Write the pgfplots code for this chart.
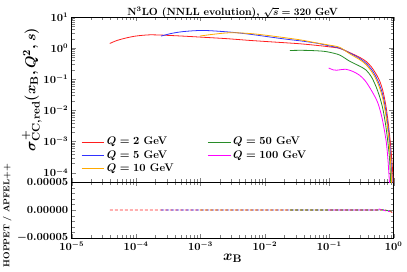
\documentclass[border=0pt]{standalone}
\usepackage{pgfplots}
\pgfplotsset{compat=1.18}
\definecolor{qred}{RGB}{255,30,30}
\definecolor{qblue}{RGB}{50,50,255}
\definecolor{qorange}{RGB}{255,170,0}
\definecolor{qgreen}{RGB}{40,140,40}
\definecolor{qmag}{RGB}{255,0,255}
\pgfplotstableread{
x y
3.9e-5 1.41
5e-5 1.75
7e-5 2.12
1e-4 2.45
1.6e-4 2.67
2.5e-4 2.62
5e-4 2.45
1e-3 2.26
2.5e-3 2.02
5.8e-3 1.77
1.2e-2 1.6
3.5e-2 1.38
0.07 1.2
0.1 1.1
0.145 0.98
0.207 0.72
0.3 0.5
0.375 0.37
0.45 0.25
0.52 0.16
0.6 0.093
0.68 0.042
0.757 0.014
0.82 0.0042
0.88 0.0011
0.93 0.0003
0.97 0.00008
0.99 0.00001
}\qtwo
\pgfplotstableread{
x y
2.44e-4 2.44
3.5e-4 2.95
5.4e-4 3.4
1.1e-3 3.7
2.84e-3 3.28
5.8e-3 2.8
1.9e-2 2.0
3.5e-2 1.72
6.3e-2 1.45
0.1 1.18
0.145 1.0
0.207 0.7
0.3 0.46
0.375 0.32
0.45 0.21
0.52 0.13
0.6 0.068
0.68 0.03
0.757 0.0095
0.82 0.0028
0.86 0.0011
0.9 0.0003
0.94 0.00006
0.97 0.000005
}\qfive
\pgfplotstableread{
x y
9.77e-4 2.44
1.5e-3 2.75
2.84e-3 3.12
5.8e-3 2.95
1.2e-2 2.5
3.5e-2 1.85
0.06 1.5
0.1 1.25
0.145 1.06
0.207 0.66
0.3 0.42
0.375 0.29
0.45 0.18
0.52 0.11
0.6 0.055
0.68 0.023
0.757 0.0068
0.82 0.0019
0.86 0.0007
0.9 0.00018
0.93 0.00004
0.96 0.000004
}\qten
\pgfplotstableread{
x y
0.0244 0.84
0.035 0.85
0.05 0.84
0.078 0.8
0.1 0.74
0.145 0.6
0.207 0.38
0.3 0.26
0.375 0.195
0.45 0.12
0.52 0.065
0.6 0.029
0.68 0.011
0.757 0.003
0.82 0.0008
0.86 0.0003
0.89 0.00008
0.92 0.00001
}\qfifty
\pgfplotstableread{
x y
0.0977 0.23
0.115 0.2
0.13 0.195
0.155 0.205
0.18 0.21
0.23 0.18
0.295 0.135
0.36 0.09
0.42 0.056
0.5 0.03
0.57 0.017
0.65 0.0065
0.72 0.0022
0.77 0.0009
0.81 0.0003
0.85 0.00007
0.87 0.00003
}\qhund
\begin{document}
\boldmath\bfseries
\begin{tikzpicture}
\useasboundingbox (-71.7pt,-33pt) rectangle (335.3pt,238pt);
\pgfplotsset{
  every axis/.append style={font=\bfseries\boldmath},
  tick label style={font=\fontsize{10.5}{12}\selectfont\bfseries\boldmath},
  every axis label/.append style={font=\fontsize{15}{18}\selectfont\bfseries\boldmath},
  tick align=inside,
  xtick pos=both, ytick pos=both,
}
% ratio panel
\begin{axis}[
  at={(0,0)}, anchor=south west,
  scale only axis, width=322pt, height=56pt,
  xmode=log, xmin=1e-5, xmax=1,
  ymin=-5e-5, ymax=5e-5,
  ytick={-5e-5,0,5e-5},
  minor y tick num=4,
  scaled y ticks=false,
  yticklabel style={/pgf/number format/.cd, fixed, fixed zerofill, precision=5},
  xlabel={$x_{\mathrm{B}}$},
  xlabel style={yshift=3pt},
  ylabel={HOPPET / APFEL++},
  ylabel style={font=\fontsize{8.5}{10}\selectfont\bfseries, at={(axis description cs:-0.2,0.4)}, anchor=center},
]
\addplot[qred, densely dashed, line width=0.7pt] coordinates {(3.9e-5,0)(1e-4,0)(1e-3,0)(1e-2,0)(0.1,0)(0.5,0)(0.6,0)(0.7,0.5e-6)(0.8,-1.5e-6)(0.9,-3e-6)(0.95,-5e-6)};
\addplot[qblue, densely dashed, line width=0.7pt] coordinates {(2.44e-4,0)(1e-3,0)(1e-2,0)(0.1,0)(0.5,0)(0.6,0)(0.7,0.5e-6)(0.8,-1e-6)(0.9,-2e-6)(0.94,-3e-6)};
\addplot[qorange, densely dashed, line width=0.7pt] coordinates {(9.77e-4,0)(1e-2,0)(0.1,0)(0.5,0)(0.6,0)(0.7,0.5e-6)(0.8,-1e-6)(0.9,-2e-6)(0.93,-2.5e-6)};
\addplot[qgreen, densely dashed, line width=0.7pt] coordinates {(0.0244,0)(0.1,0)(0.5,0)(0.6,0.3e-6)(0.7,0)(0.8,-1e-6)(0.89,-2e-6)};
\addplot[qmag, densely dashed, line width=0.7pt] coordinates {(0.0977,0)(0.3,0)(0.55,0)(0.6,1.8e-6)(0.65,0)(0.75,-1.5e-6)(0.87,-3e-6)};
\end{axis}
% main panel
\begin{axis}[
  at={(0,56pt)}, anchor=south west,
  scale only axis, width=322pt, height=165pt,
  xmode=log, ymode=log, xmin=1e-5, xmax=1,
  ymin=5e-5, ymax=10,
  ytick={1e-4,1e-3,1e-2,1e-1,1,10},
  xticklabels=\empty,
  title={N$^3$LO (NNLL evolution), $\sqrt{s} = 320$ GeV},
  title style={yshift=-10.5pt, font=\fontsize{10.4}{12}\selectfont\bfseries\boldmath},
  ylabel={$\sigma^{+}_{\mathrm{CC,red}}(x_{\mathrm{B}}, Q^2, s)$},
  ylabel style={at={(axis description cs:-0.124,0.56)}, anchor=center},
  legend columns=2,
  legend cell align=left,
  legend style={draw=none, fill=none, at={(0.02,0.03)}, anchor=south west,
    font=\fontsize{11}{13}\selectfont\bfseries\boldmath, row sep=0pt,
    /tikz/every even column/.append style={column sep=32pt}},
  legend image code/.code={\draw[#1] (0cm,0cm) -- (0.8cm,0cm);},
]
\addplot[color=qred, line width=0.8pt, smooth] table[x=x,y=y] {\qtwo};
\addlegendentry{$Q = 2$ GeV}
\addplot[color=qgreen, line width=0.8pt, smooth] table[x=x,y=y] {\qfifty};
\addlegendentry{$Q = 50$ GeV}
\addplot[color=qblue, line width=0.8pt, smooth] table[x=x,y=y] {\qfive};
\addlegendentry{$Q = 5$ GeV}
\addplot[color=qmag, line width=0.8pt, smooth] table[x=x,y=y] {\qhund};
\addlegendentry{$Q = 100$ GeV}
\addplot[color=qorange, line width=0.8pt, smooth] table[x=x,y=y] {\qten};
\addlegendentry{$Q = 10$ GeV}
\end{axis}
\end{tikzpicture}
\end{document}
